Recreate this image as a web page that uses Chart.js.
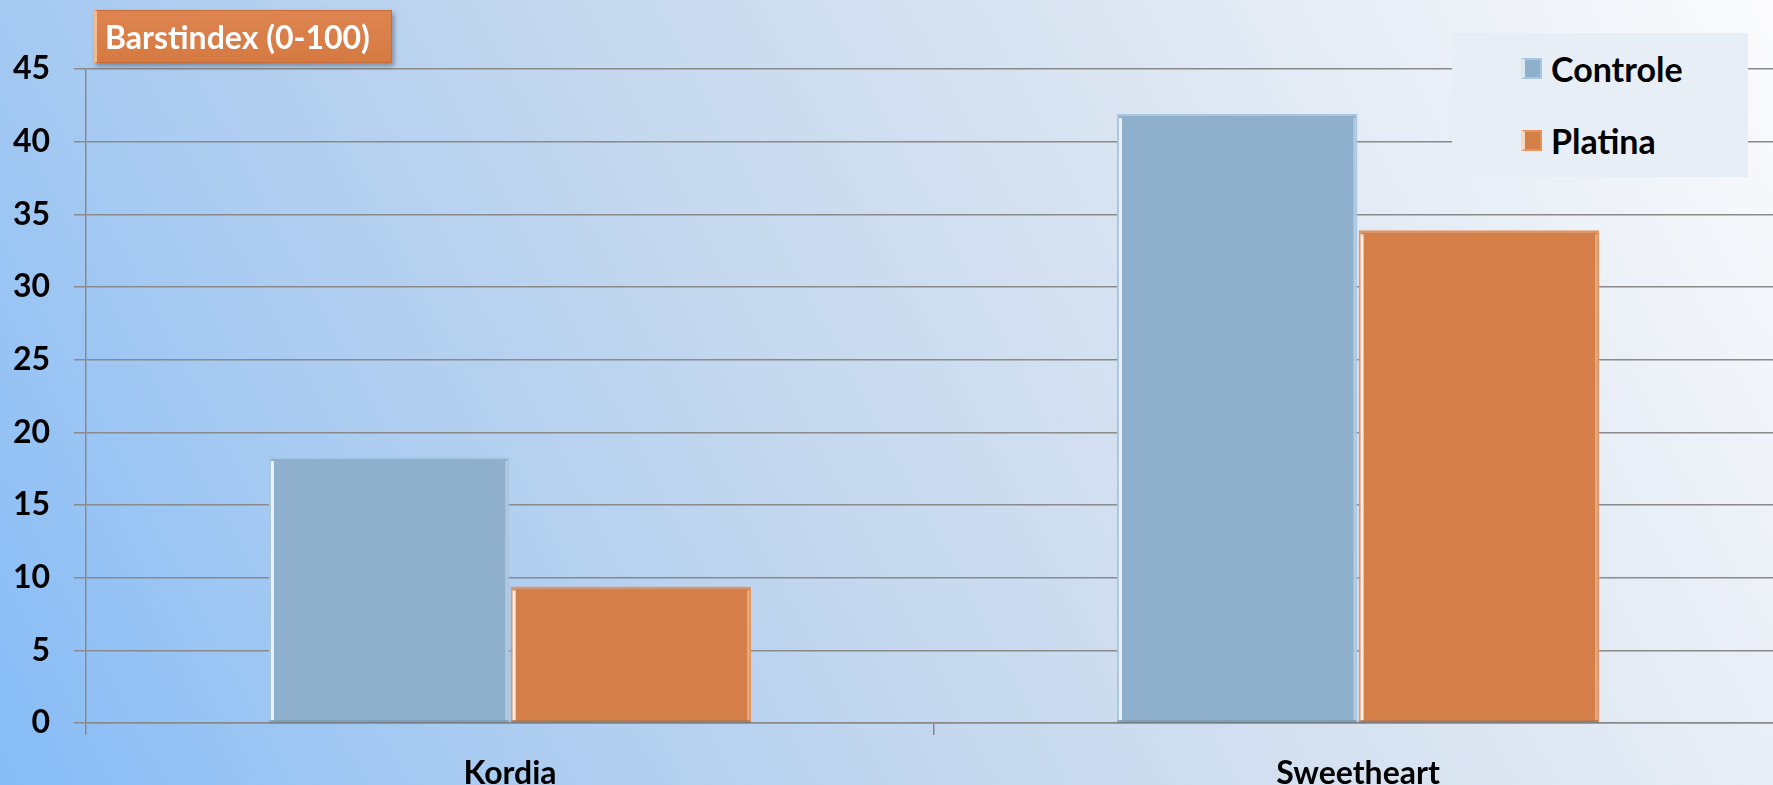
<!DOCTYPE html>
<html>
<head>
<meta charset="utf-8">
<script src="https://cdn.jsdelivr.net/npm/chart.js@4/dist/chart.umd.min.js"></script>
<style>
  html, body { margin: 0; padding: 0; overflow: hidden; }
  body {
    width: 1773px; height: 785px; position: relative;
    background: linear-gradient(62deg, #86bcf7 0%, #a9cbf1 22%, #c5d8ee 45%, #dbe5f2 68%, #fbfbfd 100%);
    font-family: Lato, "Open Sans", sans-serif;
  }
  #chart { position: absolute; left: 0; top: 0; }
  #title {
    position: absolute; left: 94px; top: 10px; width: 298px; height: 53px;
    box-sizing: border-box; padding-left: 8px;
    background: linear-gradient(#dd8450, #d67a42);
    border: 1px solid #c76d37; border-left: 3px solid #f4b98f;
    box-shadow: 2px 3px 5px rgba(0,0,0,0.35);
    color: #fff; font-size: 32px; font-weight: bold; line-height: 51px;
    white-space: nowrap;
  }
  #legend {
    position: absolute; left: 1452px; top: 33px; width: 296px; height: 144px;
    background: #e8eef5;
  }
  .item {
    position: absolute; left: 69px; height: 40px;
    display: flex; align-items: center;
    font-size: 34px; font-weight: bold; color: #000;
  }
  .sw { width: 21px; height: 21px; margin-right: 9px; box-sizing: border-box; }
</style>
</head>
<body>
<canvas id="chart" width="1790" height="800"></canvas>
<div id="title">Barstindex (0-100)</div>
<div id="legend"></div>
<script>
// data
const categories = ['Kordia', 'Sweetheart'];
const seriesNames = ['Controle', 'Platina'];
const controle = [18.3, 41.9];
const platina = [9.4, 33.9];
const yTicks = [0, 5, 10, 15, 20, 25, 30, 35, 40, 45];

const fills = ['#8fb0cc', '#d57f48'];
const edges = ['#a6c6e2', '#e9935c'];

// light bevel on the left edge of every bar, like the office 3d style
const bevel = {
  id: 'bevel',
  afterDatasetsDraw(chart) {
    const ctx = chart.ctx;
    chart.data.datasets.forEach((ds, i) => {
      chart.getDatasetMeta(i).data.forEach(bar => {
        const left = bar.x - bar.width / 2;
        const h = bar.base - bar.y;
        ctx.save();
        ctx.fillStyle = 'rgba(255,255,255,0.85)';
        ctx.fillRect(left + 2, bar.y + 4, 3, h - 6);
        ctx.fillStyle = 'rgba(255,255,255,0.35)';
        ctx.fillRect(bar.x + bar.width / 2 - 4, bar.y + 4, 2, h - 6);
        ctx.fillStyle = 'rgba(70,90,110,0.25)';
        ctx.fillRect(left, bar.base - 2, bar.width, 3);
        ctx.restore();
      });
    });
  }
};

new Chart(document.getElementById('chart'), {
  type: 'bar',
  data: {
    labels: categories,
    datasets: [
      { label: seriesNames[0], data: controle, backgroundColor: fills[0], borderColor: edges[0], borderWidth: 2 },
      { label: seriesNames[1], data: platina, backgroundColor: fills[1], borderColor: edges[1], borderWidth: 2 }
    ]
  },
  options: {
    responsive: false,
    animation: false,
    devicePixelRatio: 1,
    layout: { padding: { top: 69, right: 8, left: 0, bottom: 0 } },
    datasets: { bar: { categoryPercentage: 0.57, barPercentage: 0.995 } },
    plugins: { legend: { display: false }, tooltip: { enabled: false } },
    scales: {
      x: {
        afterFit: s => { s.height = 77; },
        grid: { offset: true, drawOnChartArea: false, drawTicks: true, tickLength: 12, color: '#8a8a8a', lineWidth: 1.5 },
        border: { display: true, color: '#8a8a8a', width: 1.5 },
        ticks: { color: '#000', padding: 19, font: { family: 'Lato', size: 32, weight: 'bold' } }
      },
      y: {
        min: 0, max: 45,
        afterFit: s => { s.width = 86; },
        afterBuildTicks: s => { s.ticks = yTicks.map(v => ({ value: v })); },
        grid: { color: '#8a8a8a', lineWidth: 1.5, tickLength: 12 },
        border: { display: true, color: '#8a8a8a', width: 1.5 },
        ticks: { color: '#000', padding: 24, font: { family: 'Lato', size: 32, weight: 'bold' } }
      }
    }
  },
  plugins: [bevel]
});

// legend box
const legend = document.getElementById('legend');
seriesNames.forEach((name, i) => {
  const item = document.createElement('div');
  item.className = 'item';
  item.style.top = (15 + i * 72) + 'px';
  const sw = document.createElement('span');
  sw.className = 'sw';
  sw.style.background = fills[i];
  sw.style.border = '2px solid ' + edges[i];
  sw.style.borderLeft = '4px solid rgba(255,255,255,0.7)';
  item.appendChild(sw);
  item.appendChild(document.createTextNode(name));
  legend.appendChild(item);
});
</script>
</body>
</html>
